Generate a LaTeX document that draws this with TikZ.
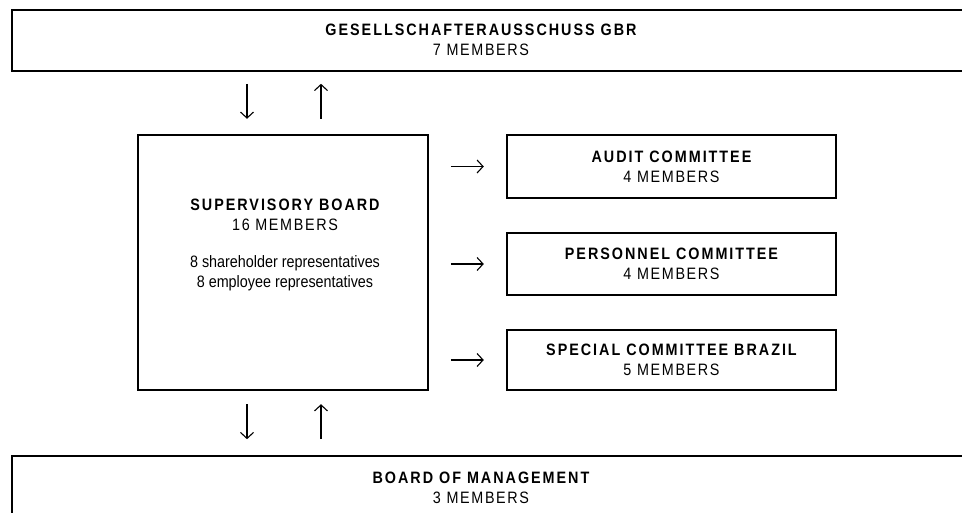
\documentclass[tikz,border=0pt]{standalone}
\usepackage{fontspec}
\usetikzlibrary{arrows.meta}

\setmainfont{Liberation Sans}[FakeStretch=0.87]
\newfontfamily\headfont{Liberation Sans}[FakeStretch=0.87,LetterSpace=12]
\newfontfamily\countfont{Liberation Sans}[FakeStretch=0.87,LetterSpace=10]

\newcommand{\boxtitle}[1]{{\headfont\bfseries #1}}
\newcommand{\boxcount}[1]{{\countfont #1}}

\begin{document}
\begin{tikzpicture}[x=1pt,y=-1pt,
    frame/.style={draw,line width=2.4pt,rectangle,inner sep=0pt},
    boxtext/.style={align=center,inner sep=0pt,font=\fontsize{16.5}{20}\selectfont},
    flow/.style={-{Straight Barb[length=6pt,width=13pt]},line width=1.1pt}]
    \useasboundingbox (0,0) rectangle (962,513);
    \clip (0,0) rectangle (962,513);
    % partners' committee, runs off the right edge
    \node[frame,anchor=north west,minimum width=1000pt,minimum height=61pt] at (11,9) (gbr) {};
    \node[boxtext] at (481,39.5) (gbrtext) {\boxtitle{GESELLSCHAFTERAUSSCHUSS GBR}\\ \boxcount{7 MEMBERS}};
    % supervisory board
    \node[frame,minimum width=290pt,minimum height=255pt] at (283,262.5) (board) {};
    \node[boxtext] at (285,245) (boardtext) {\boxtitle{SUPERVISORY BOARD}\\ \boxcount{16 MEMBERS}\\[17pt]
        8 shareholder representatives\\ 8 employee representatives};
    % committees
    \node[frame,boxtext,minimum width=329pt,minimum height=63pt] at (671.5,166.5) (audit) {\boxtitle{AUDIT COMMITTEE}\\ \boxcount{4 MEMBERS}};
    \node[frame,boxtext,minimum width=329pt,minimum height=62pt] at (671.5,264) (personnel) {\boxtitle{PERSONNEL COMMITTEE}\\ \boxcount{4 MEMBERS}};
    \node[frame,boxtext,minimum width=329pt,minimum height=60pt] at (671.5,360) (brazil) {\boxtitle{SPECIAL COMMITTEE BRAZIL}\\ \boxcount{5 MEMBERS}};
    % board of management, runs off the bottom
    \node[frame,anchor=north west,minimum width=1000pt,minimum height=100pt] at (11,455) (management) {};
    \node[boxtext] at (481,487.5) (managementtext) {\boxtitle{BOARD OF MANAGEMENT}\\ \boxcount{3 MEMBERS}};
    % arrows
    \draw[flow] ([xshift=-36pt,yshift=50pt]board.north) -- ([xshift=-36pt,yshift=15pt]board.north);
    \draw[flow] ([xshift=38pt,yshift=15pt]board.north) -- ([xshift=38pt,yshift=50pt]board.north);
    \draw[flow] ([xshift=-36pt,yshift=-13pt]board.south) -- ([xshift=-36pt,yshift=-48pt]board.south);
    \draw[flow] ([xshift=38pt,yshift=-48pt]board.south) -- ([xshift=38pt,yshift=-13pt]board.south);
    \draw[flow] ([xshift=-55pt]audit.west) -- ([xshift=-22pt]audit.west);
    \draw[flow] ([xshift=-55pt]personnel.west) -- ([xshift=-22pt]personnel.west);
    \draw[flow] ([xshift=-55pt]brazil.west) -- ([xshift=-22pt]brazil.west);
\end{tikzpicture}
\end{document}
